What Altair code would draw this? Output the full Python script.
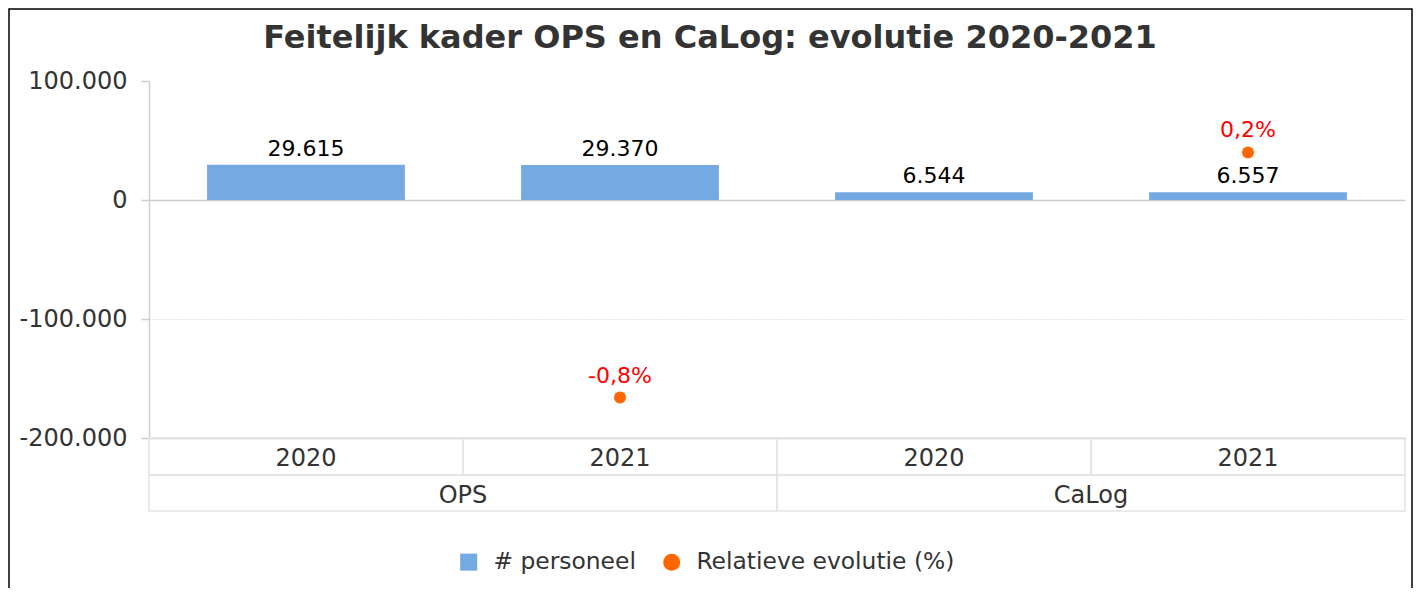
import altair as alt
import pandas as pd

# ---- data ----
groups = ["OPS", "OPS", "CaLog", "CaLog"]
years = ["2020", "2021", "2020", "2021"]
personeel = [29615, 29370, 6544, 6557]

pct_groups = ["OPS", "CaLog"]
pct_years = ["2021", "2021"]
pct_values = [-0.83, 0.20]

y_ticks = [100000, 0, -100000, -200000]
series_names = ["# personeel", "Relatieve evolutie (%)"]
title_text = "Feitelijk kader OPS en CaLog: evolutie 2020-2021"

FONT = "DejaVu Sans"
TXT = "#333333"
BLUE = "#74a9e1"
ORANGE = "#ff6600"
W, H = 1256, 357

df = pd.DataFrame({"group": groups, "year": years, "value": personeel})
df["cat"] = df["group"] + " " + df["year"]
df["serie"] = series_names[0]
cat_order = list(df["cat"])

pdf = pd.DataFrame({"group": pct_groups, "year": pct_years, "pct": pct_values})
pdf["cat"] = pdf["group"] + " " + pdf["year"]
pdf["serie"] = series_names[1]

gdf = pd.DataFrame({"group": list(dict.fromkeys(groups))})

legend = alt.Legend(
    title=None, orient="none", legendX=308, legendY=469, direction="horizontal",
    labelFontSize=23.4, labelFont=FONT, labelColor=TXT, symbolSize=290,
    symbolStrokeWidth=0, labelOffset=13, columnPadding=24, labelLimit=500,
)
color = alt.Color("serie:N", scale=alt.Scale(domain=series_names, range=[BLUE, ORANGE]), legend=legend)

x_main = alt.X(
    "cat:N", sort=cat_order,
    scale=alt.Scale(paddingInner=0, paddingOuter=0),
    axis=alt.Axis(labels=False, ticks=False, title=None, grid=False,
                  domainColor="#cccccc", domainWidth=1.5),
)

y_main = alt.Y(
    "value:Q",
    scale=alt.Scale(domain=[-200000, 100000], nice=False, zero=False),
    axis=alt.Axis(
        values=y_ticks, labelExpr="format(datum.value, ',')", title=None,
        labelFontSize=24, labelFont=FONT, labelColor=TXT, labelPadding=14,
        tickSize=8, tickColor="#cccccc", tickWidth=1.5,
        domainColor="#d0d0d0", domainWidth=1.5,
        grid=True,
        gridColor={"condition": [
            {"test": "datum.value === 0", "value": "#cccccc"},
            {"test": "datum.value === -100000", "value": "#c8c8c8"}],
            "value": "transparent"},
        gridDash={"condition": {"test": "datum.value === 0", "value": []}, "value": [1, 2]},
        gridWidth={"condition": {"test": "datum.value === 0", "value": 1.5}, "value": 1},
    ),
)

bars = alt.Chart(df).mark_bar(width={"band": 0.63}).encode(x=x_main, y=y_main, color=color)
bar_labels = alt.Chart(df).mark_text(
    fontSize=22, font=FONT, color="black", baseline="alphabetic", dy=-9
).encode(x=x_main, y=alt.Y("value:Q"), text=alt.Text("value:Q", format=","))

year_cells = alt.Chart(df).mark_rect(filled=False, stroke="#e3e3e3", strokeWidth=1.5).encode(
    x=x_main, y=alt.value(H), y2=alt.value(H + 37)
)
year_text = alt.Chart(df).mark_text(fontSize=24, font=FONT, color=TXT, baseline="middle").encode(
    x=x_main, y=alt.value(H + 21), text="year:N"
)

y_pct = alt.Y("pct:Q", scale=alt.Scale(domain=[-1, 0.5], nice=False, zero=False), axis=None)
points = alt.Chart(pdf).mark_point(filled=True, opacity=1).encode(
    x=x_main, y=y_pct, color=color, size=alt.value(144),
    shape=alt.Shape("serie:N", scale=alt.Scale(domain=series_names, range=["square", "circle"]), legend=legend),
)
pct_labels = alt.Chart(pdf).transform_calculate(
    lbl="format(datum.pct, '.1f') + '%'"
).mark_text(fontSize=22, font=FONT, color="#ff0000", baseline="alphabetic", dy=-15).encode(
    x=x_main, y=y_pct, text="lbl:N"
)

main = alt.layer(
    alt.layer(bars, bar_labels, year_cells, year_text),
    alt.layer(points, pct_labels),
).resolve_scale(y="independent")

x_group = alt.X("group:N", sort=list(gdf["group"]), scale=alt.Scale(paddingInner=0, paddingOuter=0), axis=None)
group_cells = alt.Chart(gdf).mark_rect(filled=False, stroke="#e3e3e3", strokeWidth=1.5).encode(
    x=x_group, y=alt.value(H + 37), y2=alt.value(H + 73)
)
group_text = alt.Chart(gdf).mark_text(fontSize=24, font=FONT, color=TXT, baseline="middle").encode(
    x=x_group, y=alt.value(H + 58), text="group:N"
)

frame = alt.Chart(pd.DataFrame({"k": [0]})).mark_rect(filled=False, stroke="black", strokeWidth=1.5).encode(
    x=alt.value(-140), x2=alt.value(1263), y=alt.value(-72), y2=alt.value(560)
)

chart = alt.layer(main, group_cells, group_text, frame).resolve_scale(
    x="independent", y="independent"
).properties(
    width=W, height=H,
    title=alt.Title(title_text, fontSize=32, font=FONT, fontWeight="bold", color=TXT,
                    anchor="middle", dx=-67, offset=-47),
    padding={"left": 141, "top": 73, "right": 9, "bottom": 150},
    autosize=alt.AutoSizeParams(type="none"),
).configure(font=FONT).configure_view(stroke="transparent", strokeWidth=0)

chart.save("out.html", embed_options={
    "renderer": "svg", "actions": False,
    "formatLocale": {"decimal": ",", "thousands": ".", "grouping": [3],
                     "currency": ["€", ""], "minus": "-"},
})
